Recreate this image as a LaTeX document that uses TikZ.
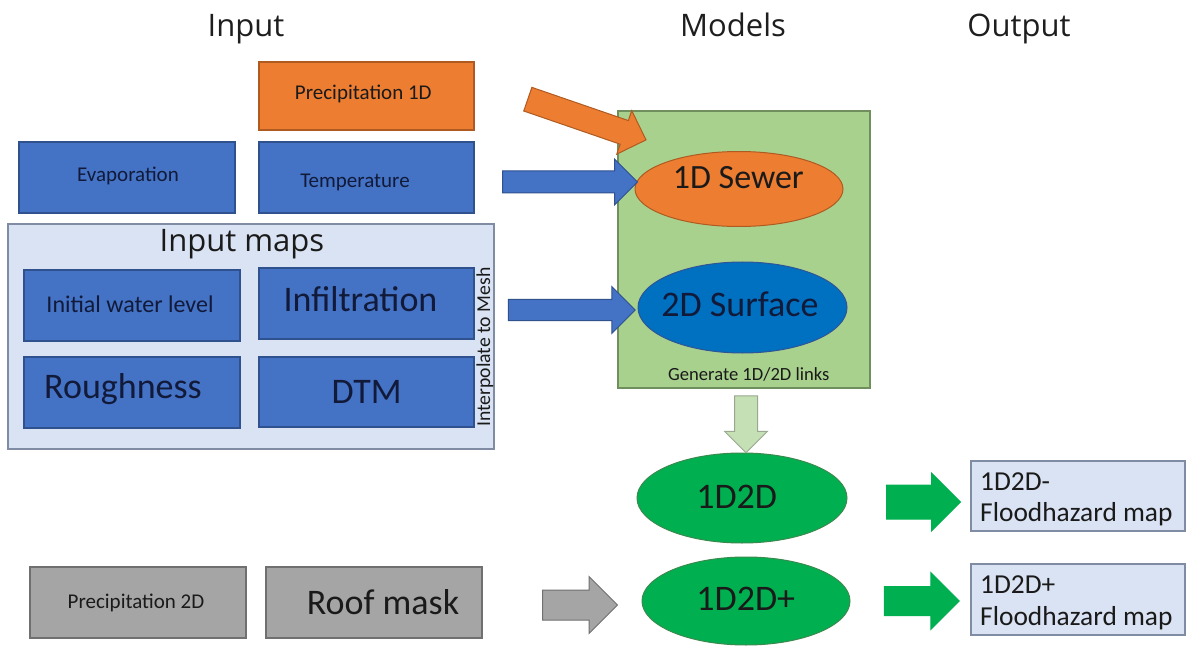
\documentclass[tikz,border=0pt]{standalone}
\usepackage{fontspec}
\setmainfont{Carlito}
\newfontfamily\headfont{Open Sans}
\usetikzlibrary{shapes.geometric,shapes.arrows}

\definecolor{titleink}{HTML}{1E1E1E}
\definecolor{boxblue}{HTML}{4472C4}
\definecolor{boxblueline}{HTML}{2F528F}
\definecolor{inkblue}{HTML}{121A3A}
\definecolor{orangefill}{HTML}{ED7D31}
\definecolor{orangeline}{HTML}{AE5A21}
\definecolor{grayfill}{HTML}{A5A5A5}
\definecolor{grayline}{HTML}{707070}
\definecolor{paleblue}{HTML}{DAE3F3}
\definecolor{palebluelin}{HTML}{7F8CA3}
\definecolor{modelgreen}{HTML}{A9D18E}
\definecolor{modelgreenline}{HTML}{6F8F5C}
\definecolor{surfblue}{HTML}{0070C0}
\definecolor{surfline}{HTML}{2F5597}
\definecolor{runsgreen}{HTML}{00B050}
\definecolor{runsline}{HTML}{3A8A4E}
\definecolor{palegreen}{HTML}{C5E0B4}
\definecolor{palegreenline}{HTML}{9AA890}
\definecolor{darkink}{HTML}{1A1A1A}

\newcommand\sz[1]{\fontsize{#1bp}{#1bp}\selectfont}

\begin{document}
\begin{tikzpicture}[x=1bp,y=-1bp,
  heading/.style={font=\headfont\sz{31}, text=titleink, anchor=base, inner sep=0pt},
  lab/.style={anchor=base, inner sep=0pt},
  inbox/.style={rectangle, draw=boxblueline, fill=boxblue, line width=1.2bp,
    minimum width=216bp, minimum height=71bp, inner sep=0pt},
  graybox/.style={inbox, draw=grayline, fill=grayfill},
  outbox/.style={rectangle, draw=palebluelin, fill=paleblue, line width=1.2bp,
    minimum width=214bp, minimum height=70bp, inner sep=0pt},
  runnode/.style={ellipse, line width=1bp, inner sep=0pt},
  blockarrow/.style={single arrow, inner sep=0pt, line width=1bp,
    single arrow tip angle=90}]

\useasboundingbox (0,0) rectangle (1189,646);
\fill[white] (0,0) rectangle (1189,646);

% column headings
\node[heading] (hIn)  at (246,37)  {Input};
\node[heading] (hMod) at (733,37)  {Models};
\node[heading] (hOut) at (1019,37) {Output};

% meteorological input
\node[inbox, fill=orangefill, draw=orangeline, minimum width=215bp, minimum height=68bp] (prec1d) at (366.5,96) {};
\node[lab, font=\sz{21}, text=darkink] (prec1dT) at (363.3,99.5) {Precipitation 1D};
\node[inbox] (evap) at (127,177.5) {};
\node[lab, font=\sz{21}, text=inkblue] (evapT) at (128,181.5) {Evaporation};
\node[inbox, minimum width=215bp] (temp) at (366.5,177.5) {};
\node[lab, font=\sz{21}, text=inkblue] (tempT) at (355,188) {Temperature};

% input maps group
\node[rectangle, fill=paleblue, draw=palebluelin, line width=1.2bp,
  minimum width=486bp, minimum height=225bp, inner sep=0pt] (maps) at (251,336.5) {};
\node[lab, font=\headfont\sz{31}, text=darkink] (mapsT) at (242,252) {Input maps};
\node[inbox] (iwl) at (132,305.5) {};
\node[lab, font=\sz{24}, text=inkblue] (iwlT) at (130,312.5) {Initial water level};
\node[inbox, minimum width=215bp] (infil) at (366.5,303.5) {};
\node[lab, font=\sz{36}, text=inkblue] (infilT) at (360.5,311.5) {Infiltration};
\node[inbox] (rough) at (132,392.5) {};
\node[lab, font=\sz{36}, text=inkblue] (roughT) at (123,398.5) {Roughness};
\node[inbox, minimum width=215bp, minimum height=70bp] (dtm) at (366.5,392) {};
\node[lab, font=\sz{36}, text=inkblue] (dtmT) at (366.7,403.3) {DTM};
\node[anchor=base west, inner sep=0pt, rotate=90, font=\sz{19.7}, text=darkink] (interp) at (490,427) {Interpolate to Mesh};

% 2D rainfall input
\node[graybox] (prec2d) at (138,602.5) {};
\node[lab, font=\sz{21}, text=darkink] (prec2dT) at (136,608.3) {Precipitation 2D};
\node[graybox] (roof) at (374,602.5) {};
\node[lab, font=\sz{36}, text=darkink] (roofT) at (383,614) {Roof mask};

% model block
\node[rectangle, fill=modelgreen, draw=modelgreenline, line width=1.2bp,
  minimum width=252bp, minimum height=277bp, inner sep=0pt] (models) at (744,249.5) {};
\node[runnode, fill=orangefill, draw=orangeline, minimum width=208bp, minimum height=75bp] (sewer) at (739,189) {};
\node[lab, font=\sz{34}, text=darkink] (sewerT) at (738.3,188.3) {1D Sewer};
\node[runnode, fill=surfblue, draw=surfline, minimum width=209bp, minimum height=91bp] (surf) at (742.5,307.5) {};
\node[lab, font=\sz{36}, text=inkblue] (surfT) at (740,316.7) {2D Surface};
\node[lab, font=\sz{18.6}, text=darkink] (links) at (748.8,380) {Generate 1D/2D links};

% coupled runs
\node[runnode, fill=runsgreen, draw=runsline, minimum width=210bp, minimum height=90bp] (run1) at (742,498) {};
\node[lab, font=\sz{36}, text=darkink] (run1T) at (736.7,508.3) {1D2D};
\node[runnode, fill=runsgreen, draw=runsline, minimum width=208bp, minimum height=88bp] (run2) at (746,601) {};
\node[lab, font=\sz{36}, text=darkink] (run2T) at (745.8,610) {1D2D+};

% result maps
\node[outbox] (out1) at (1078,496) {};
\node[anchor=base west, inner sep=0pt, font=\sz{27.4}, text=darkink] (out1a) at (980,490) {1D2D-};
\node[anchor=base west, inner sep=0pt, font=\sz{27.4}, text=darkink] (out1b) at (980,521.7) {Floodhazard map};
\node[outbox, minimum height=71bp] (out2) at (1078,599.5) {};
\node[anchor=base west, inner sep=0pt, font=\sz{27.4}, text=darkink] (out2a) at (980,593.3) {1D2D+};
\node[anchor=base west, inner sep=0pt, font=\sz{27.4}, text=darkink] (out2b) at (980,625) {Floodhazard map};

% flow arrows
\node[blockarrow, fill=orangefill, draw=orangeline, minimum height=125bp,
  inner ysep=12bp, single arrow head extend=10.5bp, rotate=-19] (aPrec) at (581,117.5) {};
\node[blockarrow, fill=boxblue, draw=boxblueline, minimum height=135bp,
  inner ysep=10.5bp, single arrow head extend=12bp] (aTemp) at (564.5,182) {};
\node[blockarrow, fill=boxblue, draw=boxblueline, minimum height=127bp,
  inner ysep=10bp, single arrow head extend=13bp] (aMaps) at (566.5,310) {};
\node[blockarrow, fill=palegreen, draw=palegreenline, minimum height=57bp,
  inner ysep=11bp, single arrow head extend=10bp, rotate=-90] (aLink) at (746,418.5) {};
\node[blockarrow, fill=grayfill, draw=grayline, minimum height=75bp,
  inner ysep=14.5bp, single arrow head extend=13.5bp] (aRain) at (572.5,605) {};
\node[blockarrow, fill=runsgreen, draw=runsgreen, minimum height=74bp,
  inner ysep=16.5bp, single arrow head extend=12bp] (aOut1) at (915,502) {};
\node[blockarrow, fill=runsgreen, draw=runsgreen, minimum height=75bp,
  inner ysep=14bp, single arrow head extend=14bp] (aOut2) at (914.5,601) {};
\end{tikzpicture}
\end{document}
